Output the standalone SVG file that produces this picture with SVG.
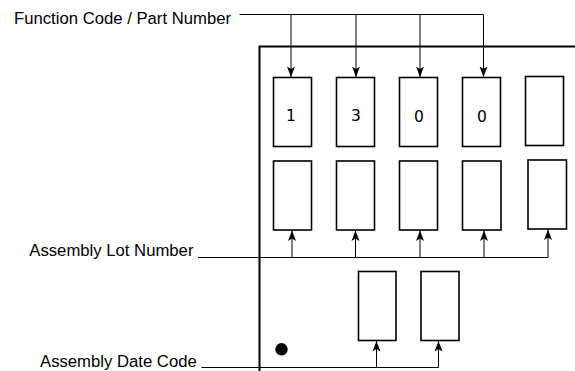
<svg xmlns="http://www.w3.org/2000/svg" width="575" height="371" viewBox="0 0 575 371">
  <defs>
    <marker id="arrow" markerUnits="userSpaceOnUse" markerWidth="11" markerHeight="9" viewBox="0 0 11 9" refX="10.5" refY="4.5" orient="auto">
      <path d="M0,0.5 L10.5,4.5 L0,8.5 L2.5,4.5 Z" fill="#000"/>
    </marker>
  </defs>
  <style>
    .label { font-family: "Liberation Sans", Arial, sans-serif; font-size: 16.7px; fill: #000; }
    .digit { font-family: "DejaVu Sans", Verdana, sans-serif; font-size: 15.5px; fill: #000; text-anchor: middle; }
    .cell { fill: #fff; stroke: #000; stroke-width: 1.6; }
    .wire { fill: none; stroke: #000; stroke-width: 1; }
    .arrow { fill: none; stroke: #000; stroke-width: 1; marker-end: url(#arrow); }
    .body { fill: none; stroke: #000; stroke-width: 2; }
  </style>
  <rect width="575" height="371" fill="#fff"/>

  <!-- package outline -->
  <g id="package">
    <path class="body" d="M259.5,372 V46.5 H576"/>
    <circle cx="281.5" cy="349.3" r="6.2" fill="#000"/>
  </g>

  <!-- top row: function code / part number -->
  <g id="fc1"><rect class="cell" x="273.5" y="77.5" width="38" height="69"/><text class="digit" x="291" y="121">1</text></g>
  <g id="fc2"><rect class="cell" x="336.5" y="77.5" width="38" height="69"/><text class="digit" x="356" y="121">3</text></g>
  <g id="fc3"><rect class="cell" x="399.5" y="77.5" width="38" height="69"/><text class="digit" x="419" y="122">0</text></g>
  <g id="fc4"><rect class="cell" x="462.5" y="77.5" width="38" height="69"/><text class="digit" x="482" y="122">0</text></g>
  <g id="fc5"><rect class="cell" x="525.5" y="76.5" width="38" height="69"/></g>

  <!-- middle row: assembly lot number -->
  <g id="lot1"><rect class="cell" x="273.5" y="161" width="38" height="69"/></g>
  <g id="lot2"><rect class="cell" x="336.5" y="161" width="38" height="69"/></g>
  <g id="lot3"><rect class="cell" x="399.5" y="161" width="38" height="69"/></g>
  <g id="lot4"><rect class="cell" x="462.5" y="161" width="38.5" height="69"/></g>
  <g id="lot5"><rect class="cell" x="528" y="160" width="38.5" height="69"/></g>

  <!-- bottom row: assembly date code -->
  <g id="date1"><rect class="cell" x="358.5" y="271.5" width="37.5" height="69"/></g>
  <g id="date2"><rect class="cell" x="421" y="271.5" width="38" height="69"/></g>

  <!-- labels -->
  <g id="label-function"><text class="label" x="14" y="24">Function Code / Part Number</text></g>
  <g id="label-lot"><text class="label" x="29.3" y="256">Assembly Lot Number</text></g>
  <g id="label-date"><text class="label" x="40" y="366.5">Assembly Date Code</text></g>

  <!-- connectors -->
  <g id="connectors">
    <path class="wire" d="M239.5,14.5 H483.5"/>
    <path class="arrow" d="M291,14.5 V77"/>
    <path class="arrow" d="M356,14.5 V77"/>
    <path class="arrow" d="M420,14.5 V77"/>
    <path class="arrow" d="M483.5,14.5 V77"/>

    <path class="wire" d="M198,257.5 H548"/>
    <path class="arrow" d="M292,257.5 V230.5"/>
    <path class="arrow" d="M355.5,257.5 V230.5"/>
    <path class="arrow" d="M420,257.5 V230.5"/>
    <path class="arrow" d="M484,257.5 V230.5"/>
    <path class="arrow" d="M548,257.5 V229.5"/>

    <path class="wire" d="M201.5,367.5 H438.5"/>
    <path class="arrow" d="M376.5,367.5 V341"/>
    <path class="arrow" d="M438.5,367.5 V341"/>
  </g>
</svg>
